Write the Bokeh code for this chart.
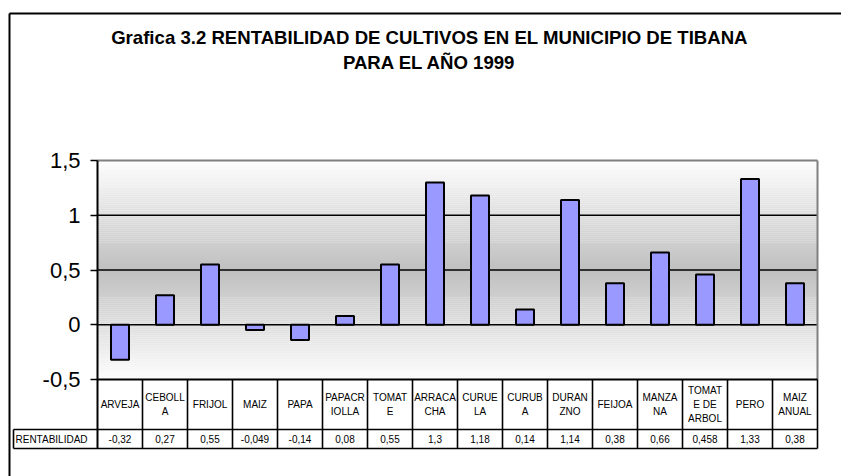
import numpy as np
from bokeh.plotting import figure
from bokeh.models import Range1d, FixedTicker
from bokeh.embed import file_html
from bokeh.resources import INLINE
from bokeh.core.properties import value

# ---------------- data ----------------
title_line1 = "Grafica 3.2 RENTABILIDAD DE CULTIVOS EN EL MUNICIPIO DE TIBANA"
title_line2 = "PARA EL AÑO 1999"
categories = ["ARVEJA", "CEBOLLA", "FRIJOL", "MAIZ", "PAPA", "PAPACRIOLLA", "TOMATE",
              "ARRACACHA", "CURUELA", "CURUBA", "DURANZNO", "FEIJOA", "MANZANA",
              "TOMATE DE ARBOL", "PERO", "MAIZ ANUAL"]
category_labels = ["ARVEJA", "CEBOLL\nA", "FRIJOL", "MAIZ", "PAPA", "PAPACR\nIOLLA", "TOMAT\nE",
                   "ARRACA\nCHA", "CURUE\nLA", "CURUB\nA", "DURAN\nZNO", "FEIJOA", "MANZA\nNA",
                   "TOMAT\nE DE\nARBOL", "PERO", "MAIZ\nANUAL"]
series_name = "RENTABILIDAD"
rentabilidad = [-0.32, 0.27, 0.55, -0.049, -0.14, 0.08, 0.55, 1.3, 1.18, 0.14, 1.14,
                0.38, 0.66, 0.458, 1.33, 0.38]
y_ticks = [-0.5, 0, 0.5, 1, 1.5]
y_tick_labels = ["-0,5", "0", "0,5", "1", "1,5"]
grid_ticks = [0, 0.5, 1]

value_labels = [str(v).replace(".", ",") for v in rentabilidad]

# ---------------- layout (page pixels) ----------------
W, H = 841, 476
n = len(categories)
plot_left, plot_right = 97, 817        # plot area in pixels
plot_top, plot_bottom = 160, 379
col_px = (plot_right - plot_left) / n
ymin_plot, ymax_plot = y_ticks[0], y_ticks[-1]
unit_px = (plot_bottom - plot_top) / (ymax_plot - ymin_plot)
header_bottom_px, table_bottom_px = 429, 448
row_label_left_px = 13

x_start = -plot_left / col_px
x_end = (W - plot_left) / col_px
y_end = ymax_plot + plot_top / unit_px
y_start = ymax_plot - (H - plot_top) / unit_px

def y_of_px(py):
    return ymax_plot - (py - plot_top) / unit_px

FONT = "Liberation Sans"

p = figure(width=W, height=H, output_backend="svg", toolbar_location=None,
           x_range=Range1d(x_start, x_end), y_range=Range1d(y_start, y_end),
           x_axis_location=None, min_border=0,
           min_border_left=0, min_border_right=0, min_border_top=0, min_border_bottom=0,
           background_fill_color="white", border_fill_color="white",
           outline_line_color=None)
p.extra_x_ranges = {"px": Range1d(0, W)}
p.extra_y_ranges = {"px": Range1d(H, 0)}

# background gradient of plot area (white at edges, gray in the middle)
edges = np.linspace(ymin_plot, ymax_plot, 111)
mids = (edges[:-1] + edges[1:]) / 2
center = (ymin_plot + ymax_plot) / 2
d = np.abs(mids - center) / ((ymax_plot - ymin_plot) / 2)
g = (192 + (253 - 192) * d).astype(int)
colors = ["#%02x%02x%02x" % (v, v, v) for v in g]
p.quad(left=0, right=n, bottom=edges[:-1], top=edges[1:], fill_color=colors,
       line_color=None)

# grid lines, limited to the plot area
p.xgrid.grid_line_color = None
p.ygrid.grid_line_color = None
p.segment(x0=0, y0=grid_ticks, x1=n, y1=grid_ticks, line_color="black", line_width=1.3)

# plot area border (gray top/right)
p.segment(x0=[0, n], y0=[ymax_plot, ymax_plot], x1=[n, n], y1=[ymax_plot, ymin_plot],
          line_color="#808080", line_width=2)

# bars
xpos = np.arange(n) + 0.5
p.vbar(x=xpos, top=rentabilidad, bottom=0, width=0.4, fill_color="#9999ff",
       line_color="black", line_width=2)

# y axis (pinned at the left edge of the plot area)
ax = p.yaxis[0]
ax.fixed_location = 0
ax.bounds = (y_of_px(table_bottom_px), ymax_plot)
ax.ticker = FixedTicker(ticks=y_ticks)
ax.major_label_overrides = {t: l for t, l in zip(y_ticks, y_tick_labels)}
ax.axis_line_color = "black"
ax.axis_line_width = 2
ax.major_tick_line_color = "black"
ax.major_tick_line_width = 1.5
ax.major_tick_out = 7
ax.major_tick_in = 0
ax.minor_tick_out = 0
ax.minor_tick_in = 0
ax.major_label_text_font = FONT
ax.major_label_text_font_size = "22px"
ax.major_label_text_color = "black"
ax.major_label_standoff = 10

# data table
bounds = np.arange(1, n + 1)
p.segment(x0=bounds, y0=plot_bottom, x1=bounds, y1=table_bottom_px,
          y_range_name="px", line_color="black", line_width=1.6)
p.segment(x0=[plot_left, row_label_left_px, row_label_left_px, row_label_left_px],
          y0=[plot_bottom, header_bottom_px, table_bottom_px, header_bottom_px],
          x1=[plot_right, plot_right, plot_right, row_label_left_px],
          y1=[plot_bottom, header_bottom_px, table_bottom_px, table_bottom_px],
          x_range_name="px", y_range_name="px", line_color="black",
          line_width=[2, 1.6, 1.6, 1.6])
p.text(x=xpos, y=(plot_bottom + header_bottom_px) / 2, text=category_labels,
       y_range_name="px", text_align="center", text_baseline="middle",
       text_font=value(FONT), text_font_size="10px", text_color="black",
       text_line_height=1.3)
p.text(x=xpos, y=(header_bottom_px + table_bottom_px) / 2, text=value_labels,
       y_range_name="px", text_align="center", text_baseline="middle",
       text_font=value(FONT), text_font_size="10px", text_color="black")
p.text(x=[row_label_left_px + 2], y=[(header_bottom_px + table_bottom_px) / 2],
       text=[series_name], x_range_name="px", y_range_name="px",
       text_align="left", text_baseline="middle",
       text_font=value(FONT), text_font_size="10px", text_color="black")

# outer chart border
p.segment(x0=[9, 9], y0=[13, 13], x1=[W + 10, 9], y1=[13, H + 10],
          x_range_name="px", y_range_name="px", line_color="black", line_width=2)

# title
p.text(x=[429, 429], y=[37, 62],
       text=[title_line1, title_line2], x_range_name="px", y_range_name="px",
       text_align="center", text_baseline="middle", text_font=value(FONT),
       text_font_size="18.6px", text_font_style="bold", text_color="black")

open("out.html", "w").write(file_html(p, INLINE))
